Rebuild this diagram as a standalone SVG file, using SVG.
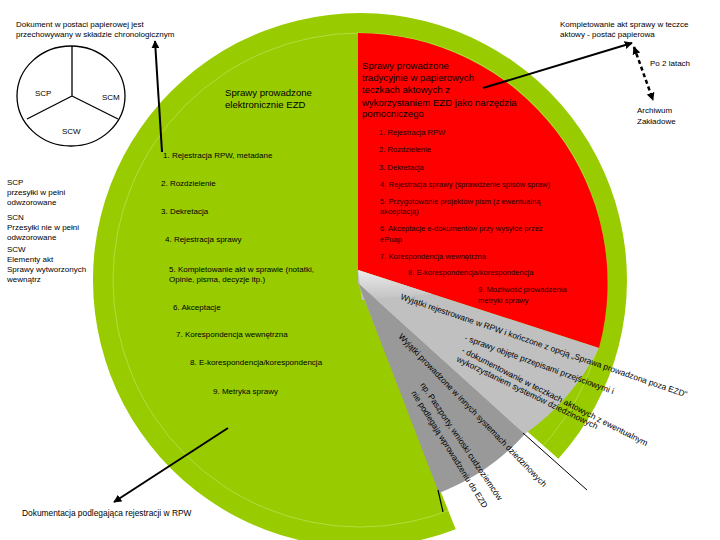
<svg xmlns="http://www.w3.org/2000/svg" width="720" height="540" viewBox="0 0 720 540">
<style>
text{font-family:"Liberation Sans","DejaVu Sans",sans-serif;fill:#000}
.s{font-size:8px}
.h{font-size:9.6px}
.r{font-size:7.6px;fill:#220000}
.g{font-size:8.4px}
.ln{stroke:#000;stroke-width:2;fill:none}
</style>
<defs>
<marker id="ah" viewBox="0 0 10 10" refX="9" refY="5" markerWidth="5" markerHeight="5" orient="auto-start-reverse" markerUnits="userSpaceOnUse">
<path d="M0,0 L10,5 L0,10 Z" fill="#000"/>
</marker>
<marker id="ah2" viewBox="0 0 10 10" refX="9" refY="5" markerWidth="8" markerHeight="8" orient="auto-start-reverse" markerUnits="userSpaceOnUse">
<path d="M0,0 L10,5 L0,10 Z" fill="#000"/>
</marker>
<clipPath id="gclip"><path d="M358,283 L455.7,529.3 A267,267 0 1 1 558.4,458.7 Z"/></clipPath>
<linearGradient id="peel" x1="0" y1="0" x2="0" y2="1">
<stop offset="0" stop-color="#ececec"/><stop offset="1" stop-color="#c0c0c0"/>
</linearGradient>
</defs>
<rect width="720" height="540" fill="#fff"/>

<g id="pie">
<path d="M358,283 L455.7,529.3 A267,267 0 1 1 558.4,458.7 Z" fill="#99cc00"/>
<circle cx="360" cy="280" r="247" fill="none" stroke="#b9e050" stroke-width="0.8" clip-path="url(#gclip)"/>
<path d="M358,270 L358,33 A250,250 0 0 1 599,348 Z" fill="#ff0000"/>
<path d="M358,270 L599,348 A240,240 0 0 1 525,434 L358,283 Z" fill="#c0c0c0"/>
<path d="M358,270 L432,294 L362,300 Z" fill="url(#peel)"/>
<path d="M358,283 L525,434 A225,225 0 0 1 439,493 Z" fill="#999999"/>
</g>

<g id="legend-circle">
<ellipse cx="71" cy="96" rx="54" ry="50" fill="#fff" stroke="#000" stroke-width="1.3"/>
<path d="M72,96 L72,46 M72,96 L27,119 M72,96 L118,119" stroke="#000" stroke-width="1.3" fill="none"/>
<text class="s" x="35" y="96">SCP</text>
<text class="s" x="102" y="100">SCM</text>
<text class="s" x="62" y="134">SCW</text>
</g>

<g id="connectors">
<path class="ln" d="M162,152 L155,41" marker-end="url(#ah2)"/>
<path class="ln" d="M483,88 L632,43" marker-end="url(#ah2)"/>
<path d="M634,47 L653,100" stroke="#000" stroke-width="2.5" stroke-dasharray="4,3" fill="none" marker-start="url(#ah2)" marker-end="url(#ah2)"/>
<path class="ln" d="M228,428 L114,502" marker-end="url(#ah2)"/>
<path d="M523,433 L587,490" stroke="#000" stroke-width="1" fill="none"/>
<path d="M438,490 L443,512" stroke="#000" stroke-width="1.2" fill="none"/>
</g>

<g id="top-left-note">
<text class="s" x="16" y="27">Dokument w postaci papierowej jest</text>
<text class="s" x="16" y="37">przechowywany w składzie chronologicznym</text>
</g>

<g id="top-right-note">
<text class="s" x="560" y="27">Kompletowanie akt sprawy w teczce</text>
<text class="s" x="560" y="37">aktowy - postać papierowa</text>
<text class="s" x="650" y="66">Po 2 latach</text>
<text class="s" x="637" y="113">Archiwum</text>
<text class="s" x="637" y="124">Zakładowe</text>
</g>

<g id="left-legend">
<text class="s" x="7" y="185">SCP</text>
<text class="s" x="7" y="195">przesyłki w pełni</text>
<text class="s" x="7" y="205">odwzorowane</text>
<text class="s" x="7" y="220">SCN</text>
<text class="s" x="7" y="230">Przesyłki nie w pełni</text>
<text class="s" x="7" y="240">odwzorowane</text>
<text class="s" x="7" y="252">SCW</text>
<text class="s" x="7" y="262">Elementy akt</text>
<text class="s" x="7" y="272">Sprawy wytworzonych</text>
<text class="s" x="7" y="282">wewnątrz</text>
</g>

<g id="ezd">
<text class="h" x="225" y="96">Sprawy prowadzone</text>
<text class="h" x="225" y="108">elektronicznie EZD</text>
<text class="s" x="163" y="158">1. Rejestracja RPW, metadane</text>
<text class="s" x="161" y="186">2. Rozdzielenie</text>
<text class="s" x="161" y="214">3. Dekretacja</text>
<text class="s" x="165" y="242">4. Rejestracja sprawy</text>
<text class="s" x="169" y="272">5. Kompletowanie akt w sprawie (notatki,</text>
<text class="s" x="169" y="282">Opinie, pisma, decyzje itp.)</text>
<text class="s" x="173" y="310">6. Akceptacje</text>
<text class="s" x="176" y="337">7. Korespondencja wewnętrzna</text>
<text class="s" x="190" y="365">8. E-korespondencja/korespondencja</text>
<text class="s" x="213" y="394">9. Metryka sprawy</text>
</g>

<g id="paper">
<text class="h" x="362" y="69" fill="#220000">Sprawy prowadzone</text>
<text class="h" x="362" y="81">tradycyjnie w papierowych</text>
<text class="h" x="362" y="93">teczkach aktowych z</text>
<text class="h" x="362" y="106">wykorzystaniem EZD jako narzędzia</text>
<text class="h" x="362" y="117">pomocniczego</text>
<text class="r" x="379" y="135">1. Rejestracja RPW</text>
<text class="r" x="379" y="152">2. Rozdzielenie</text>
<text class="r" x="379" y="170">3. Dekretacja</text>
<text class="r" x="380" y="187">4. Rejestracja sprawy (sprawdzenie spisów spraw)</text>
<text class="r" x="380" y="204">5. Przygotowanie projektów pism (z ewentualną</text>
<text class="r" x="380" y="214">akceptacją)</text>
<text class="r" x="380" y="231">6. Akceptacje e-dokumentów przy wysyłce przez</text>
<text class="r" x="380" y="242">ePuap</text>
<text class="r" x="380" y="259">7. Korespondencja wewnętrzna</text>
<text class="r" x="408" y="275">8. E-korespondencja/korespondencja</text>
<text class="r" x="478" y="292">9. Możliwość prowadzenia</text>
<text class="r" x="478" y="303">metryki sprawy</text>
</g>

<g id="exceptions">
<text class="g" transform="translate(400,299) rotate(19)">Wyjątki rejestrowane w RPW i kończone z opcją „Sprawa prowadzona poza EZD”</text>
<text class="g" transform="translate(464,340) rotate(20)">- sprawy objęte przepisami przejściowymi i</text>
<text class="g" transform="translate(461,352) rotate(27)">- dokumentowanie w teczkach aktowych z ewentualnym</text>
<text class="g" transform="translate(456,361) rotate(26)">wykorzystaniem systemów dziedzinowych</text>
<text class="g" transform="translate(398,337) rotate(46)">Wyjątki prowadzone w innych systemach dziedzinowych</text>
<text class="g" transform="translate(420,385) rotate(56)">np. Paszporty, wnioski cudzoziemców</text>
<text class="g" transform="translate(411,393) rotate(58)">nie podlegają wprowadzeniu do EZD</text>
</g>

<g id="bottom-note">
<text class="g" x="22" y="516">Dokumentacja podlegająca rejestracji w RPW</text>
</g>
</svg>
